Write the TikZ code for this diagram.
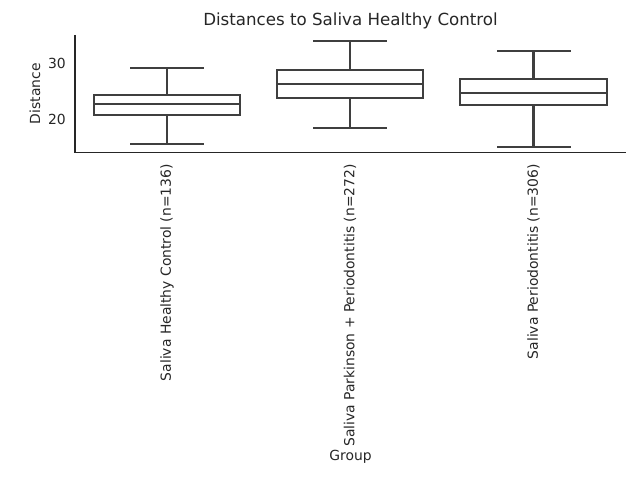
\documentclass[tikz,border=0pt]{standalone}
\usepackage{fontspec}
\setmainfont{DejaVu Sans}
\definecolor{txtgray}{HTML}{262626}
\definecolor{boxgray}{HTML}{3F3F3F}
\tikzset{
  boxline/.style={line width=1.5pt,boxgray},
  spine/.style={line width=1pt,txtgray},
  ticklbl/.style={font=\fontsize{10}{12}\selectfont,text=txtgray,inner sep=0pt},
}
\begin{document}
\begin{tikzpicture}[x=0.72pt,y=-0.72pt]
    \useasboundingbox (0,0) rectangle (640,480);
    \node[font=\fontsize{12}{14}\selectfont,text=txtgray] (title) at (350.5,21) {Distances to Saliva Healthy Control};
    \node[ticklbl,rotate=90] (ylab) at (35,93.7) {Distance};
    \node[ticklbl] (xlab) at (350.5,457) {Group};
    \begin{scope}[y=4.018pt,yshift=-166.2pt]
       \draw[spine] (75,35.1)--(75,14.09)--(626,14.09);
       \node[ticklbl,anchor=east] (t20) at (66,20) {20};
       \node[ticklbl,anchor=east] (t30) at (66,30) {30};
       % Saliva Healthy Control
       \draw[boxline] (167,20.82)--(167,15.63) (130,15.63)--(204,15.63);
       \draw[boxline] (167,24.35)--(167,29.25) (130,29.25)--(204,29.25);
       \draw[boxline] (94,20.82) rectangle (240,24.35);
       \draw[boxline] (94,22.8)--(240,22.8);
       % Saliva Parkinson + Periodontitis
       \draw[boxline] (350,23.82)--(350,18.44) (313,18.44)--(387,18.44);
       \draw[boxline] (350,28.83)--(350,34.09) (313,34.09)--(387,34.09);
       \draw[boxline] (277,23.82) rectangle (423,28.83);
       \draw[boxline] (277,26.27)--(423,26.27);
       % Saliva Periodontitis
       \draw[boxline] (533.5,22.47)--(533.5,15.04) (497,15.04)--(570.5,15.04);
       \draw[boxline] (533.5,27.24)--(533.5,32.24) (497,32.24)--(570.5,32.24);
       \draw[boxline] (460,22.47) rectangle (607,27.24);
       \draw[boxline] (460,24.68)--(607,24.68);
    \end{scope}
    \node[ticklbl,rotate=90,anchor=east] (g1) at (167,164) {Saliva Healthy Control (n=136)};
    \node[ticklbl,rotate=90,anchor=east] (g2) at (350,164) {Saliva Parkinson + Periodontitis (n=272)};
    \node[ticklbl,rotate=90,anchor=east] (g3) at (533.5,164) {Saliva Periodontitis (n=306)};
\end{tikzpicture}
\end{document}
